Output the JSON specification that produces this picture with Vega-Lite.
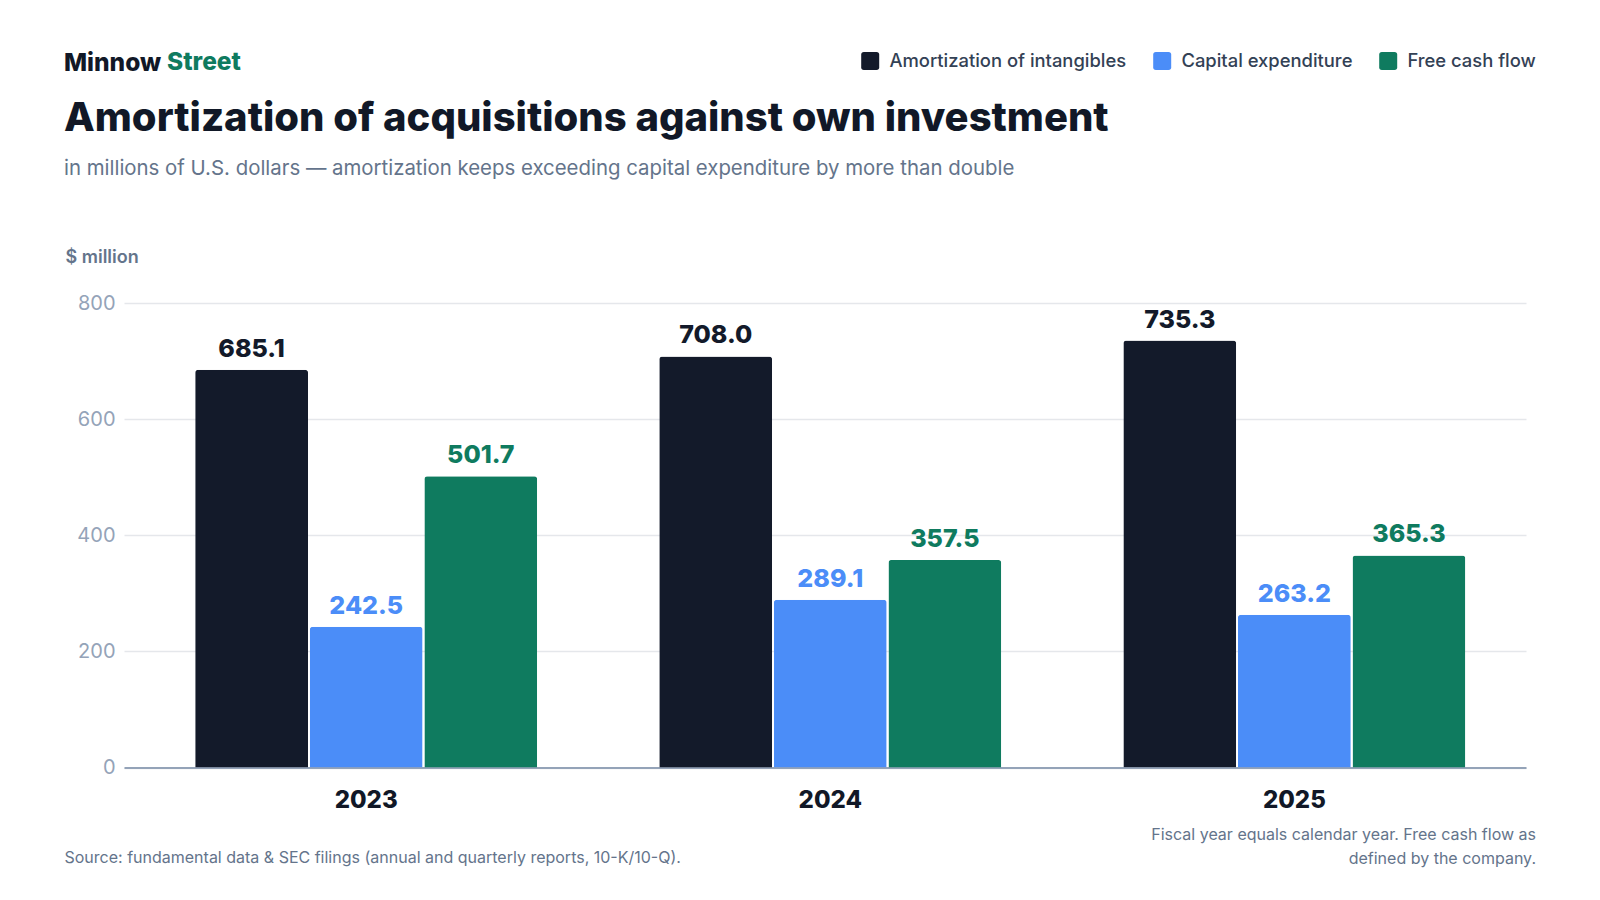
{
  "$schema": "https://vega.github.io/schema/vega-lite/v6.json",
  "description": "Amortization vs capex vs free cash flow, grouped bars",
  "background": "white",
  "padding": {"left": 64, "top": 50, "right": 62, "bottom": 33},
  "title": {
    "text": "Street",
    "anchor": "start",
    "dx": 103,
    "offset": -24.5,
    "fontSize": 24.5,
    "fontWeight": 800,
    "color": "#0f7b5f"
  },
  "vconcat": [
    {
      "title": {
        "text": "Minnow",
        "anchor": "start",
        "offset": 22.5,
        "fontSize": 24.5,
        "fontWeight": 800,
        "color": "#111827"
      },
      "vconcat": [
        {
          "title": {
            "text": [
              "Fiscal year equals calendar year. Free cash flow as",
              "defined by the company."
            ],
            "orient": "bottom",
            "anchor": "end",
            "dx": 10,
            "offset": -39,
            "fontSize": 16,
            "fontWeight": 400,
            "lineHeight": 24,
            "color": "#64748b"
          },
          "vconcat": [
            {
              "width": 1402,
              "height": 464.5,
              "title": {
                "text": "Amortization of acquisitions against own investment",
                "subtitle": "in millions of U.S. dollars — amortization keeps exceeding capital expenditure by more than double",
                "anchor": "start",
                "offset": 69,
                "fontSize": 40,
                "fontWeight": 800,
                "color": "#111827",
                "subtitleFontSize": 20.4,
                "subtitleFontWeight": 400,
                "subtitleColor": "#64748b",
                "subtitlePadding": 19.7
              },
              "data": {
                "values": [
                  {"year": "2023", "series": "Amortization of intangibles", "value": 685.1},
                  {"year": "2023", "series": "Capital expenditure", "value": 242.5},
                  {"year": "2023", "series": "Free cash flow", "value": 501.7},
                  {"year": "2024", "series": "Amortization of intangibles", "value": 708.0},
                  {"year": "2024", "series": "Capital expenditure", "value": 289.1},
                  {"year": "2024", "series": "Free cash flow", "value": 357.5},
                  {"year": "2025", "series": "Amortization of intangibles", "value": 735.3},
                  {"year": "2025", "series": "Capital expenditure", "value": 263.2},
                  {"year": "2025", "series": "Free cash flow", "value": 365.3}
                ]
              },
              "encoding": {
                "x": {
                  "field": "year",
                  "type": "nominal",
                  "scale": {"paddingInner": 0.263, "paddingOuter": 0.142, "align": 0.54},
                  "axis": {
                    "labelAngle": 0,
                    "ticks": false,
                    "grid": false,
                    "domainColor": "#94a3b8",
                    "domainWidth": 2,
                    "labelFontSize": 24,
                    "labelFontWeight": 800,
                    "labelColor": "#111827",
                    "labelPadding": 21,
                    "title": "Source: fundamental data & SEC filings (annual and quarterly reports, 10-K/10-Q).",
                    "titleAnchor": "start",
                    "titleAlign": "left",
                    "titleBaseline": "middle",
                    "titleX": -60,
                    "titleY": 90,
                    "titleFontSize": 16,
                    "titleFontWeight": 400,
                    "titleColor": "#64748b"
                  }
                },
                "xOffset": {
                  "field": "series",
                  "type": "nominal",
                  "sort": ["Amortization of intangibles", "Capital expenditure", "Free cash flow"],
                  "scale": {"paddingInner": 0.015}
                },
                "y": {
                  "field": "value",
                  "type": "quantitative",
                  "scale": {"domain": [0, 800], "nice": false},
                  "axis": {
                    "values": [0, 200, 400, 600, 800],
                    "domain": false,
                    "ticks": false,
                    "labelPadding": 9,
                    "labelFontSize": 20,
                    "labelColor": "#94a3b8",
                    "gridColor": "#e5e7eb",
                    "gridWidth": 1.5,
                    "title": "$ million",
                    "titleAngle": 0,
                    "titleAlign": "left",
                    "titleBaseline": "middle",
                    "titleX": -59,
                    "titleY": -45.5,
                    "titleFontSize": 18,
                    "titleFontWeight": 600,
                    "titleColor": "#64748b"
                  }
                },
                "color": {
                  "field": "series",
                  "type": "nominal",
                  "scale": {
                    "domain": ["Amortization of intangibles", "Capital expenditure", "Free cash flow"],
                    "range": ["#131a2a", "#4b8df8", "#0f7b5f"]
                  },
                  "legend": {
                    "title": null,
                    "orient": "none",
                    "legendX": 737,
                    "legendY": -251.5,
                    "direction": "horizontal",
                    "padding": 0,
                    "symbolType": "M-0.7,-1H0.7Q1,-1,1,-0.7V0.7Q1,1,0.7,1H-0.7Q-1,1,-1,0.7V-0.7Q-1,-1,-0.7,-1Z",
                    "symbolSize": 324,
                    "symbolStrokeWidth": 0,
                    "labelFontSize": 18.4,
                    "labelFontWeight": 500,
                    "labelColor": "#334155",
                    "labelLimit": 400,
                    "labelOffset": 10,
                    "columnPadding": 26
                  }
                }
              },
              "layer": [
                {"mark": {"type": "bar", "cornerRadiusEnd": 3}},
                {
                  "mark": {
                    "type": "text",
                    "baseline": "alphabetic",
                    "dy": -13,
                    "fontSize": 25,
                    "fontWeight": 800
                  },
                  "encoding": {
                    "text": {"field": "value", "type": "quantitative", "format": ".1f"}
                  }
                }
              ]
            }
          ]
        }
      ]
    }
  ],
  "config": {
    "font": "Inter",
    "view": {"stroke": null},
    "title": {"font": "Inter", "subtitleFont": "Inter"},
    "axis": {"labelFont": "Inter", "titleFont": "Inter"},
    "legend": {"labelFont": "Inter"},
    "text": {"font": "Inter"}
  }
}
